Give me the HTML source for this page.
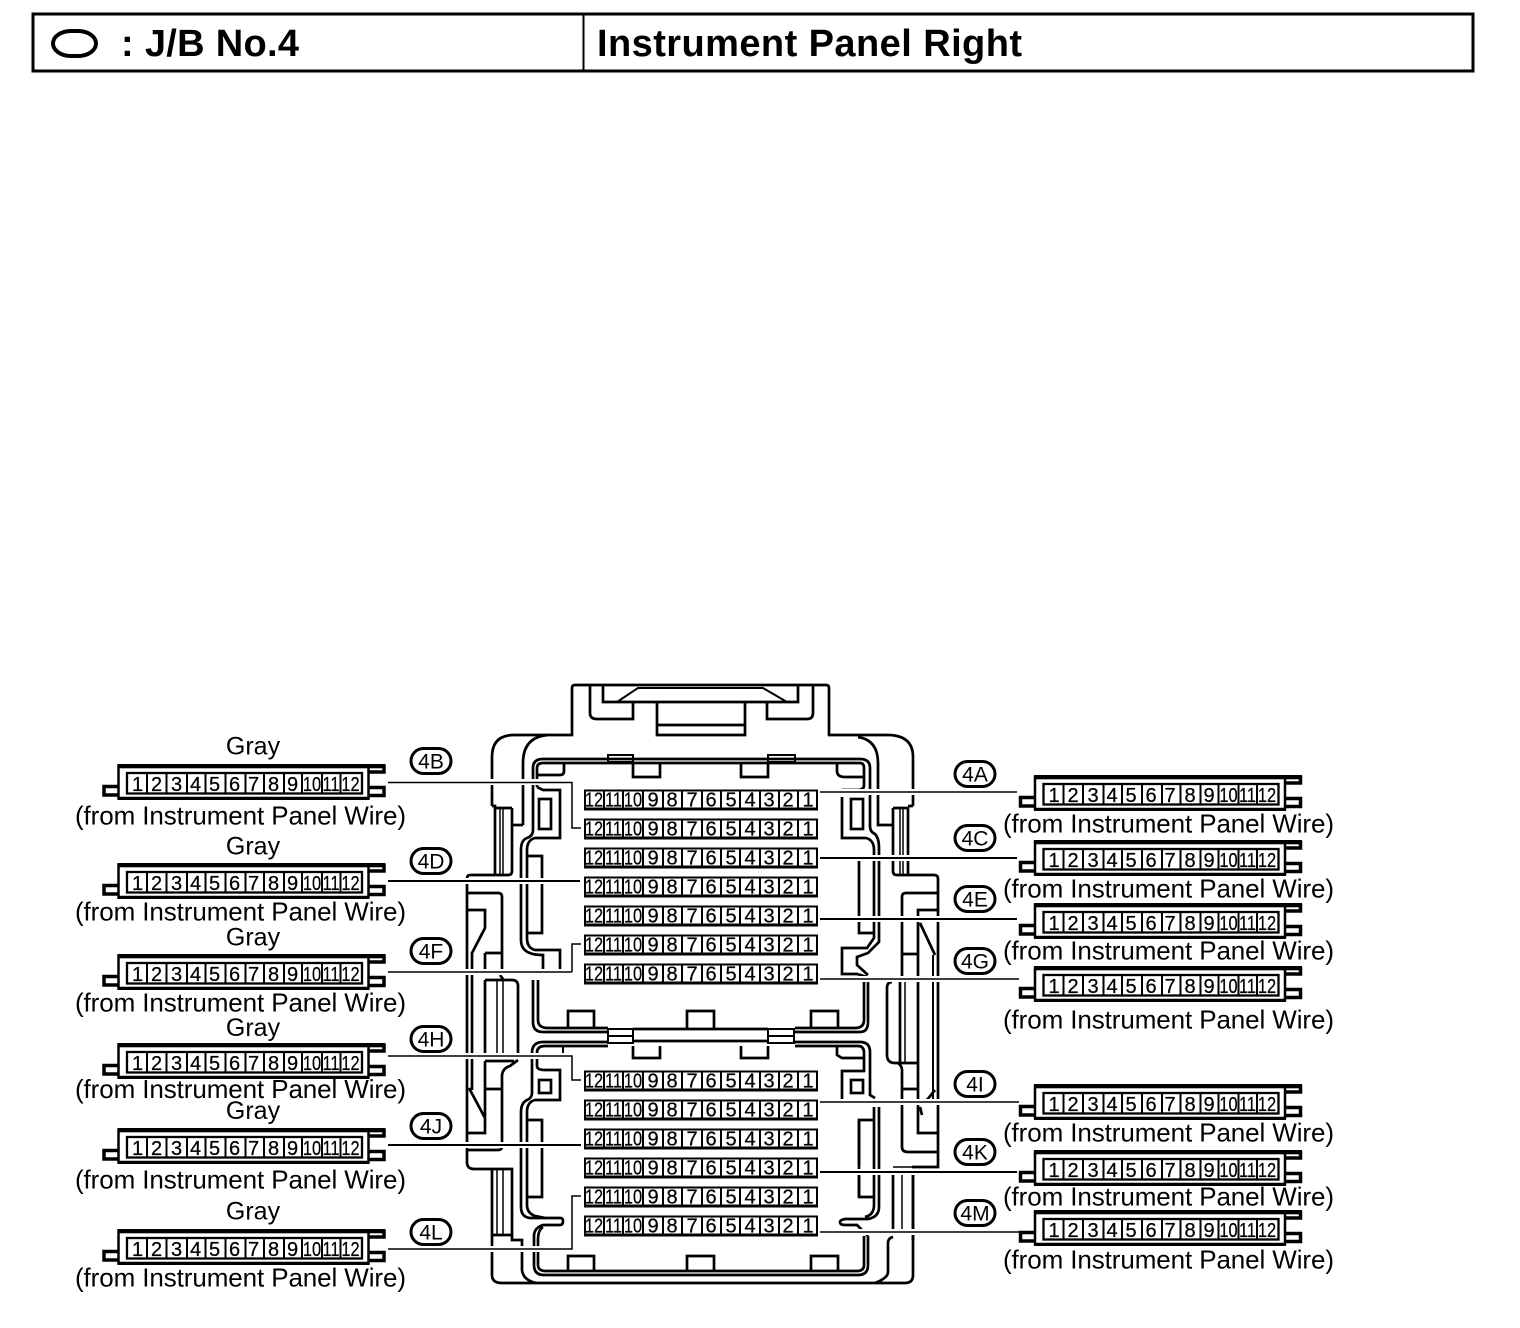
<!DOCTYPE html>
<html><head><meta charset="utf-8"><title>J/B No.4</title>
<style>
html,body{margin:0;padding:0;background:#fff}
svg{display:block}
text{font-family:"Liberation Sans",sans-serif;fill:#000}
.t{fill:none;stroke:#000;stroke-width:2.7}
.m{fill:none;stroke:#000;stroke-width:2}
.n{fill:none;stroke:#000;stroke-width:1.5}
.h{fill:none;stroke:#fff;stroke-width:6}
.d text{font-size:20px;text-anchor:middle;stroke:#000;stroke-width:.25}
.f text{font-size:20px;text-anchor:middle;stroke:#000;stroke-width:.25}
.l{font-size:26px}
.g{font-size:25px;text-anchor:middle}
.b{font-size:21px;text-anchor:middle}
.o{fill:#fff;stroke:#000;stroke-width:3}
</style></head><body>
<svg width="1520" height="1328" viewBox="0 0 1520 1328" xmlns="http://www.w3.org/2000/svg">
<defs>
<g id="c" class="d">
<path d="M0 22.500H-14.500V31H0" fill="#fff" stroke="#000" stroke-width="3.500"/>
<path d="M250 8H265.500V1M250 23.500H265.500V31.500H250" fill="#fff" stroke="#000" stroke-width="3.500"/>
<rect x="0" y="2" width="250" height="32" fill="#fff" stroke="#000" stroke-width="2.500"/>
<rect x="-1" y="0" width="268" height="4.300" fill="#000"/>
<rect x="-1" y="33" width="252" height="3" fill="#000"/>
<rect x="8.500" y="9" width="235" height="20.500" fill="#fff" stroke="#000" stroke-width="2.300"/>
<path class="m" d="M28.500 9V29M48 9V29M68.500 9V29M87 9V29M107 9V29M127 9V29M145.500 9V29M165.500 9V29M183.500 9V29M203.500 9V29M222 9V29"/>
<text x="19" y="27">1</text><text x="38" y="27">2</text><text x="58" y="27">3</text><text x="77" y="27">4</text><text x="96" y="27">5</text><text x="116" y="27">6</text><text x="135" y="27">7</text><text x="155" y="27">8</text><text x="174" y="27">9</text>
<text transform="translate(193.500 27) scale(.82 1)">10</text><text transform="translate(212.500 27) scale(.82 1)">11</text><text transform="translate(232 27) scale(.82 1)">12</text>
</g>
<g id="r" class="f">
<rect x="1" y="1" width="232" height="18" fill="#fff" stroke="#000" stroke-width="2"/>
<path d="M0 18.500H234V21H0Z" fill="#000"/>
<path class="m" d="M20 1V19M39 1V19M59 1V19M79 1V19M98 1V19M118 1V19M137 1V19M156 1V19M176 1V19M195 1V19M214 1V19"/>
<text transform="translate(10 17) scale(.82 1)">12</text><text transform="translate(29.500 17) scale(.82 1)">11</text><text transform="translate(49 17) scale(.82 1)">10</text>
<text x="69" y="17">9</text><text x="88" y="17">8</text><text x="108" y="17">7</text><text x="127" y="17">6</text><text x="147" y="17">5</text><text x="166" y="17">4</text><text x="185" y="17">3</text><text x="204" y="17">2</text><text x="224" y="17">1</text>
</g>
</defs>

<!-- header -->
<rect x="33" y="14" width="1440" height="57" fill="none" stroke="#000" stroke-width="3"/>
<path class="m" d="M583.500 14V71"/>
<rect x="53" y="31" width="43" height="25" rx="18" ry="12.500" fill="none" stroke="#000" stroke-width="4"/>
<text x="121" y="56" font-size="38" font-weight="bold" textLength="178" lengthAdjust="spacing">: J/B No.4</text>
<text x="597" y="56" font-size="38" font-weight="bold" textLength="425" lengthAdjust="spacing">Instrument Panel Right</text>

<!-- housing -->
<g>
<path class="t" d="M492 806V757Q492 735 514 735H572V688Q572 685 575 685H826Q829 685 829 688V735H887Q913 735 913 757V806"/>
<path class="t" d="M590 685V713Q590 719 597 719H633V702M603 685V702H798V685M813 685V713Q813 719 807 719H767V702M657 702V735H745V702M657 725H745"/>
<path class="m" d="M617 702L638 688H763L787 702"/>
<path class="t" d="M492 806H495V875M523 825V763Q523 737 548 735M512 808H495M512 808V871Q512 875 508 875H470Q467 875 467 879V1162Q467 1169 474 1169H512V1235H492M492 1169V1275Q492 1283 502 1283H905Q913 1283 913 1275V1175"/>
<path class="t" d="M512 825H523"/>
<path class="n" d="M500 808V875M503 808V875"/>
<path class="t" d="M467 893H498Q502 893 502 897V970M467 910H485V928L472 953V1090M485 953V970M485 953H502"/>
<path class="t" d="M485 980V1053M485 980H512Q518 980 518 986V1053M500 975L503 979"/>
<path class="n" d="M497 980V1053M503 980V1053M497 1170V1235M503 1170V1235"/>
<path class="t" d="M485 1061H514M518 1060L510 1066Q503 1068 502 1075V1143M485 1061V1133H467M469 1088L485 1118M485 1089H502M467 1150H498Q502 1150 502 1146"/>
<path class="t" d="M512 1235V1240H522V1270Q523 1280 536 1283"/>

<!-- upper panel -->
<path class="t" d="M533 768V830Q533 836 527 838Q521 840 521 850V940Q521 950 530 953Q534 955 543 955V970"/>
<path class="t" d="M537 787V768Q537 763 543 763H860Q864 763 864 768V785Q864 790 858 790H842"/>
<path class="t" d="M533 768Q533 759 543 759H860Q870 759 870 768V826Q870 832 875 834Q879 838 879 848V942L868 953L857 957V965L868 975"/>
<path class="t" d="M537 787L543 790H560V838H535Q527 840 527 850V938Q527 948 535 950H560V970"/>
<path class="t" d="M842 797V838H866Q874 840 874 850V938L867 948H842V974H857L867 977"/>
<rect class="t" x="539" y="799" width="12" height="30"/>
<rect class="t" x="851" y="799" width="12" height="30"/>
<path class="t" d="M527 856H542V933H527M859 860V933H874"/>
<path class="t" d="M633 763V777H660V763M741 763V777H768V763M538 775H560Q564 775 564 771V763M837 763V771Q837 777 845 777H864"/>
<rect class="m" x="608" y="755" width="25" height="7" fill="#fff"/>
<rect class="m" x="768" y="755" width="27" height="7" fill="#fff"/>

<path class="t" d="M533 980V1022Q533 1032 543 1032H608M538 980V1020Q538 1028 548 1028H608M795 1028H855Q864 1028 864 1020V980M795 1032H860Q868 1032 868 1022V980"/>
<path class="t" d="M568 1028V1011H594V1028M687 1028V1011H714V1028M811 1028V1011H838V1028"/>
<path class="m" d="M608 1029H633V1043H608ZM608 1036H633M768 1029H794V1043H768ZM768 1036H794"/>
<path class="t" d="M633 1029H768M633 1041H768"/>

<!-- lower panel -->
<path class="t" d="M608 1042H543Q532 1042 532 1053V1093Q532 1098 527 1100Q521 1103 521 1112V1207Q521 1217 530 1218H560Q563 1218 563 1221Q563 1225 560 1225H543Q534 1228 534 1236V1265Q534 1275 544 1275H858Q868 1275 868 1265V1236"/>
<path class="t" d="M608 1046H545Q537 1046 537 1053V1066Q537 1070 545 1070H560V1100H535Q527 1102 527 1112V1205Q527 1213 535 1216L545 1218"/>
<path class="t" d="M543 1227Q538 1230 538 1240V1265Q538 1271 546 1271H857Q864 1271 864 1265V1236"/>
<rect class="t" x="539" y="1080" width="12" height="13"/>
<rect class="t" x="851" y="1080" width="12" height="13"/>
<path class="t" d="M527 1120H542V1197H527M874 1120H859V1197H874"/>
<path class="m" d="M563 1046V1053"/>
<path class="t" d="M633 1046V1058H660V1046M741 1046V1058H768V1046M837 1046V1055L842 1058H864"/>
<path class="t" d="M795 1042H860Q870 1042 870 1052V1095L875 1098M795 1046H858Q864 1046 864 1053V1071H842V1099"/>
<path class="t" d="M879 1107V1207Q879 1217 868 1219H845Q840 1220 840 1222Q840 1225 845 1225H857L868 1236M874 1107V1205Q874 1215 865 1217"/>
<path class="t" d="M568 1271V1256H594V1271M687 1271V1256H714V1271M811 1271V1256H838V1271"/>

<!-- right side -->
<path class="t" d="M858 737Q878 740 878 763V825H893M893 808H908V875M913 806H908M893 808V871Q893 875 897 875H934Q938 875 938 879V1167H912"/>
<path class="n" d="M912 1167H893M900 808V875M903 808V875"/>
<path class="t" d="M902 977V897Q902 893 906 893H938M938 910H918V1133H938M902 954H918M920 923L935 955"/>
<path class="m" d="M933 955V1100"/>
<path class="t" d="M892 982Q887 982 887 988V1055Q887 1063 895 1063H918M898 1063Q902 1066 902 1070V1147Q902 1152 908 1152H938M902 1089H918M935 1090L927 1100M920 1107L922 1115M900 980V1063"/>
<path class="n" d="M905 980V1063"/>
<path class="t" d="M893 1175V1230M913 1175V1240M893 1237Q888 1238 888 1243V1272Q888 1278 875 1283"/>
<path class="n" d="M902 1175V1230"/>
<path class="t" d="M859 1175V1197M859 1120V1165"/>
</g>

<!-- leader halos -->
<path class="h" d="M388 782H572V828H581M388 881H580M388 972H572V944H581M388 1056H572V1080H581M388 1145H581M388 1249H572V1196H581"/>
<path class="h" d="M820 792H1017M820 858H1017M820 919H1017M820 979H1017M820 1102H1017M820 1172H1017M820 1232H1017"/>

<!-- fuse rows -->
<use href="#r" x="584" y="789.500"/><use href="#r" x="584" y="818.500"/><use href="#r" x="584" y="847.500"/><use href="#r" x="584" y="876.500"/><use href="#r" x="584" y="905.500"/><use href="#r" x="584" y="934.500"/><use href="#r" x="584" y="963.500"/>
<use href="#r" x="584" y="1070.500"/><use href="#r" x="584" y="1099.500"/><use href="#r" x="584" y="1128.500"/><use href="#r" x="584" y="1157.500"/><use href="#r" x="584" y="1186.500"/><use href="#r" x="584" y="1215.500"/>

<!-- leaders -->
<path class="n" d="M388 782.500H572V828H581M572 972H388M572 972V944H581M388 1056H572V1080H581M388 1249H572V1196H581"/>
<path class="m" d="M388 881H580M388 1145H581M820 858H1017M820 919H1017M820 1172H1017"/>
<path class="n" d="M820 792H1017M820 979H1019M820 1102H1019M820 1232H1019"/>

<!-- connectors left -->
<use href="#c" x="118.500" y="764"/><use href="#c" x="118.500" y="863"/><use href="#c" x="118.500" y="954"/><use href="#c" x="118.500" y="1043"/><use href="#c" x="118.500" y="1128"/><use href="#c" x="118.500" y="1229"/>
<!-- connectors right -->
<use href="#c" x="1035" y="775"/><use href="#c" x="1035" y="840"/><use href="#c" x="1035" y="903"/><use href="#c" x="1035" y="966"/><use href="#c" x="1035" y="1084"/><use href="#c" x="1035" y="1150"/><use href="#c" x="1035" y="1210"/>

<!-- labels -->
<text class="g" x="253" y="754.500">Gray</text><text class="g" x="253" y="854.500">Gray</text><text class="g" x="253" y="945.500">Gray</text><text class="g" x="253" y="1036">Gray</text><text class="g" x="253" y="1119">Gray</text><text class="g" x="253" y="1219.500">Gray</text>

<text class="l" x="75" y="824.500" textLength="331">(from Instrument Panel Wire)</text>
<text class="l" x="75" y="920.500" textLength="331">(from Instrument Panel Wire)</text>
<text class="l" x="75" y="1011.500" textLength="331">(from Instrument Panel Wire)</text>
<text class="l" x="75" y="1098" textLength="331">(from Instrument Panel Wire)</text>
<text class="l" x="75" y="1188.500" textLength="331">(from Instrument Panel Wire)</text>
<text class="l" x="75" y="1286.500" textLength="331">(from Instrument Panel Wire)</text>

<text class="l" x="1003" y="832.500" textLength="331">(from Instrument Panel Wire)</text>
<text class="l" x="1003" y="897.500" textLength="331">(from Instrument Panel Wire)</text>
<text class="l" x="1003" y="959.500" textLength="331">(from Instrument Panel Wire)</text>
<text class="l" x="1003" y="1028.500" textLength="331">(from Instrument Panel Wire)</text>
<text class="l" x="1003" y="1141.500" textLength="331">(from Instrument Panel Wire)</text>
<text class="l" x="1003" y="1205.500" textLength="331">(from Instrument Panel Wire)</text>
<text class="l" x="1003" y="1268.500" textLength="331">(from Instrument Panel Wire)</text>

<!-- badges -->
<rect class="o" x="411" y="748.500" width="40" height="25" rx="12.500"/><text class="b" x="431" y="768.500">4B</text>
<rect class="o" x="411" y="848.500" width="40" height="25" rx="12.500"/><text class="b" x="431" y="868.500">4D</text>
<rect class="o" x="411" y="938.500" width="40" height="25" rx="12.500"/><text class="b" x="431" y="958.500">4F</text>
<rect class="o" x="411" y="1026.500" width="40" height="25" rx="12.500"/><text class="b" x="431" y="1046.500">4H</text>
<rect class="o" x="411" y="1113.500" width="40" height="25" rx="12.500"/><text class="b" x="431" y="1133.500">4J</text>
<rect class="o" x="411" y="1219.500" width="40" height="25" rx="12.500"/><text class="b" x="431" y="1239.500">4L</text>

<rect class="o" x="955" y="761.500" width="40" height="25" rx="12.500"/><text class="b" x="975" y="781.500">4A</text>
<rect class="o" x="955" y="825.500" width="40" height="25" rx="12.500"/><text class="b" x="975" y="845.500">4C</text>
<rect class="o" x="955" y="886.500" width="40" height="25" rx="12.500"/><text class="b" x="975" y="906.500">4E</text>
<rect class="o" x="955" y="948.500" width="40" height="25" rx="12.500"/><text class="b" x="975" y="968.500">4G</text>
<rect class="o" x="955" y="1071.500" width="40" height="25" rx="12.500"/><text class="b" x="975" y="1091.500">4I</text>
<rect class="o" x="955" y="1139.500" width="40" height="25" rx="12.500"/><text class="b" x="975" y="1159.500">4K</text>
<rect class="o" x="955" y="1200.500" width="40" height="25" rx="12.500"/><text class="b" x="975" y="1220.500">4M</text>
</svg>
</body></html>
